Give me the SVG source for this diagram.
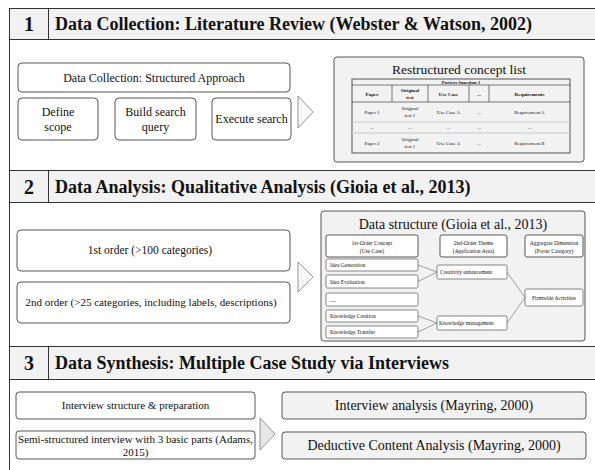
<svg xmlns="http://www.w3.org/2000/svg" width="595" height="470" viewBox="0 0 595 470">
<style>
text{font-family:"Liberation Serif","DejaVu Serif","Noto Serif","Times New Roman",Times,serif;fill:#111}
.hd{fill:#f2f2f2;stroke:#333;stroke-width:1}
.hn{font-size:20px;font-weight:bold;text-anchor:middle}
.ht{font-size:18px;font-weight:bold}
.bx{fill:#fff;stroke:#444;stroke-width:0.9}
.gb{fill:#f2f2f2;stroke:#444;stroke-width:0.9}
.tri{fill:#f7f7f7;stroke:#888;stroke-width:0.9}
.t12{font-size:12px;text-anchor:middle}
.t11{font-size:11px;text-anchor:middle}
.t14{font-size:14px;text-anchor:middle}
.ts{font-size:5px;text-anchor:middle}
.tsb{font-size:5px;font-weight:bold;text-anchor:middle}
.tl{font-size:5.5px}
.ib{fill:#fff;stroke:#555;stroke-width:0.7}
.cn{fill:none;stroke:#666;stroke-width:0.6}
</style>
<rect x="0" y="0" width="595" height="470" fill="#fff"/>
<line x1="9.5" y1="8" x2="9.5" y2="470" stroke="#333" stroke-width="1"/>

<g id="header1">
<rect class="hd" x="9.5" y="8.5" width="600" height="31"/>
<line x1="48.5" y1="8.5" x2="48.5" y2="39.5" stroke="#333"/>
<text class="hn" x="29" y="31">1</text>
<text class="ht" x="55" y="30">Data Collection: Literature Review (Webster &amp; Watson, 2002)</text>
</g>

<g id="structured-approach">
<rect class="bx" x="18" y="63" width="272" height="29" rx="4"/>
<text class="t12" x="154" y="82">Data Collection: Structured Approach</text>
</g>
<g id="define-scope">
<rect class="bx" x="18" y="98" width="80" height="42" rx="4"/>
<text class="t12" x="58" y="116">Define</text>
<text class="t12" x="58" y="131">scope</text>
</g>
<g id="build-query">
<rect class="bx" x="115" y="98" width="81" height="42" rx="4"/>
<text class="t12" x="155.5" y="116">Build search</text>
<text class="t12" x="155.5" y="131">query</text>
</g>
<g id="execute-search">
<rect class="bx" x="212" y="98" width="79" height="42" rx="4"/>
<text class="t12" x="251.5" y="123">Execute search</text>
</g>

<g id="concept-list">
<rect class="gb" x="334" y="57" width="250" height="105" rx="3"/>
<text class="t14" x="459" y="74" style="font-size:13.5px">Restructured concept list</text>
<rect x="352" y="79" width="218" height="74" fill="#f2f2f2" stroke="#444" stroke-width="0.9"/>
<line x1="352" y1="85" x2="570" y2="85" stroke="#444" stroke-width="0.7"/>
<line x1="352" y1="102" x2="570" y2="102" stroke="#444" stroke-width="0.7"/>
<line x1="352" y1="122" x2="570" y2="122" stroke="#ccc" stroke-width="1"/>
<line x1="352" y1="133" x2="570" y2="133" stroke="#d6d6d6" stroke-width="1.6"/>
<line x1="392" y1="85" x2="392" y2="102" stroke="#444" stroke-width="0.7"/>
<line x1="428" y1="85" x2="428" y2="102" stroke="#444" stroke-width="0.7"/>
<line x1="469" y1="85" x2="469" y2="102" stroke="#444" stroke-width="0.7"/>
<line x1="489" y1="85" x2="489" y2="102" stroke="#444" stroke-width="0.7"/>
<text class="tsb" x="461" y="84">Porters function 1</text>
<text class="tsb" x="372" y="95.5">Paper</text>
<text class="tsb" x="410" y="92">Original</text>
<text class="tsb" x="410" y="98.5">test</text>
<text class="tsb" x="448.5" y="95.5">Use Case</text>
<text class="tsb" x="479" y="95.5">...</text>
<text class="tsb" x="529.5" y="95.5">Requirements</text>
<text class="ts" x="372" y="113.5">Paper 1</text>
<text class="ts" x="410" y="110">Original</text>
<text class="ts" x="410" y="116.5">test 1</text>
<text class="ts" x="448.5" y="113.5">Use Case A</text>
<text class="ts" x="479" y="113.5">...</text>
<text class="ts" x="529.5" y="113.5">Requirement A</text>
<text class="ts" x="372" y="129">...</text>
<text class="ts" x="410" y="129">...</text>
<text class="ts" x="448.5" y="129">...</text>
<text class="ts" x="479" y="129">...</text>
<text class="ts" x="529.5" y="129">...</text>
<text class="ts" x="372" y="144.5">Paper 2</text>
<text class="ts" x="410" y="141">Original</text>
<text class="ts" x="410" y="147.5">test 1</text>
<text class="ts" x="448.5" y="144.5">Use Case A</text>
<text class="ts" x="479" y="144.5">...</text>
<text class="ts" x="529.5" y="144.5">Requirement B</text>
</g>

<g id="header2">
<rect class="hd" x="9.5" y="170.5" width="600" height="32"/>
<line x1="48.5" y1="170.5" x2="48.5" y2="202.5" stroke="#333"/>
<text class="hn" x="29" y="194">2</text>
<text class="ht" x="55" y="193">Data Analysis: Qualitative Analysis (Gioia et al., 2013)</text>
</g>

<g id="first-order">
<rect class="bx" x="17" y="230" width="273" height="41" rx="4"/>
<text class="t11" x="150" y="254" style="font-size:11.5px">1st order (&gt;100 categories)</text>
</g>
<g id="second-order">
<rect class="bx" x="17" y="282" width="273" height="41" rx="4"/>
<text class="t11" x="151" y="306">2nd order (&gt;25 categories, including labels, descriptions)</text>
</g>

<g id="data-structure">
<rect class="gb" x="321" y="211" width="264" height="130" rx="3"/>
<text class="t14" x="453" y="229">Data structure (Gioia et al., 2013)</text>
<rect class="bx" x="326" y="235" width="92" height="22" rx="2"/>
<text class="ts" x="372" y="244.5" style="font-size:5.5px">1st-Order Concept</text>
<text class="ts" x="372" y="252.5" style="font-size:5.5px">(Use Case)</text>
<rect class="bx" x="440" y="235" width="67" height="22" rx="2"/>
<text class="ts" x="473.5" y="244.5" style="font-size:5.5px">2nd-Order Theme</text>
<text class="ts" x="473.5" y="252.5" style="font-size:5.5px">(Application Area)</text>
<rect class="bx" x="525" y="235" width="58" height="22" rx="2"/>
<text class="ts" x="554" y="244.5" style="font-size:5.5px">Aggregate Dimension</text>
<text class="ts" x="554" y="252.5" style="font-size:5.5px">(Porter Category)</text>
</g>
<g id="idea-generation"><rect class="ib" x="326" y="259" width="92" height="12" rx="1.5"/><text class="tl" x="330" y="267">Idea Generation</text></g>
<g id="idea-evaluation"><rect class="ib" x="326" y="275" width="92" height="13" rx="1.5"/><text class="tl" x="330" y="283.5">Idea Evaluation</text></g>
<g id="ellipsis-item"><rect class="ib" x="326" y="293" width="92" height="13" rx="1.5"/><text class="tl" x="330" y="301.5">....</text></g>
<g id="knowledge-creation"><rect class="ib" x="326" y="310" width="92" height="12" rx="1.5"/><text class="tl" x="330" y="318">Knowledge Creation</text></g>
<g id="knowledge-transfer"><rect class="ib" x="326" y="326" width="92" height="12" rx="1.5"/><text class="tl" x="330" y="334">Knowledge Transfer</text></g>
<g id="creativity-enhancement"><rect class="ib" x="437" y="265" width="70" height="14" rx="1.5"/><text class="tl" x="440" y="274">Creativity enhancement</text></g>
<g id="knowledge-management"><rect class="ib" x="437" y="316" width="70" height="14" rx="1.5"/><text class="tl" x="439" y="325">Knowledge management</text></g>
<g id="firmwide-activities"><rect class="ib" x="525" y="289" width="58" height="17" rx="1.5"/><text class="tl" x="554" y="299.5" text-anchor="middle">Firmwide Activities</text></g>

<g id="header3">
<rect class="hd" x="9.5" y="346.5" width="600" height="33"/>
<line x1="48.5" y1="346.5" x2="48.5" y2="379.5" stroke="#333"/>
<text class="hn" x="29" y="370">3</text>
<text class="ht" x="55" y="369">Data Synthesis: Multiple Case Study via Interviews</text>
</g>

<g id="interview-structure">
<rect class="bx" x="16" y="392" width="239" height="27" rx="3"/>
<text class="t11" x="135.5" y="409">Interview structure &amp; preparation</text>
</g>
<g id="semi-structured">
<rect class="bx" x="16" y="431" width="239" height="28" rx="3"/>
<text class="t11" x="135.5" y="443">Semi-structured interview with 3 basic parts (Adams,</text>
<text class="t11" x="135.5" y="455.5">2015)</text>
</g>
<g id="interview-analysis">
<rect class="gb" x="282" y="392" width="304" height="27" rx="3"/>
<text class="t14" x="434" y="410">Interview analysis (Mayring, 2000)</text>
</g>
<g id="deductive-analysis">
<rect class="gb" x="282" y="432" width="304" height="27" rx="3"/>
<text class="t14" x="434" y="450">Deductive Content Analysis (Mayring, 2000)</text>
</g>

<g id="connectors">
<polygon class="tri" points="298,96 313,112 298,128"/>
<polygon class="tri" points="298,262 313,277 298,292"/>
<polygon class="tri" points="260,418 275,434 260,450" style="fill:#e8e8e8"/>
<polyline class="cn" points="418,265 437,272 418,281.5"/>
<polyline class="cn" points="418,316 437,323 418,332"/>
<polyline class="cn" points="507,272 525,297.5 507,323"/>
</g>
</svg>
